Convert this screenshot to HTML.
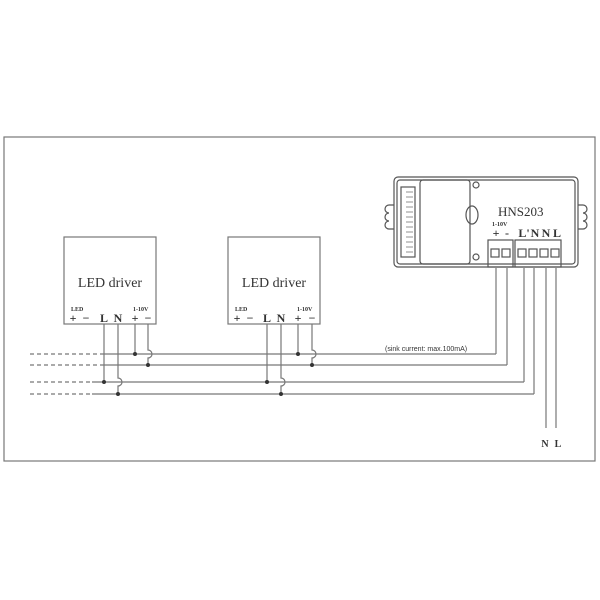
<!DOCTYPE html>
<html><head><meta charset="utf-8"><style>
html,body{margin:0;padding:0;background:#fff;}
svg{display:block;}
text{font-family:"Liberation Serif",serif;fill:#333;}
</style></head><body>
<svg width="600" height="600" viewBox="0 0 600 600" xmlns="http://www.w3.org/2000/svg">
<g fill="none" stroke="#777" stroke-width="1.2">
<rect x="4" y="137" width="591" height="324"/>
<rect x="64" y="237" width="92" height="87"/>
<rect x="228" y="237" width="92" height="87"/>
<g stroke-dasharray="4,3">
<line x1="30" y1="354" x2="104" y2="354"/>
<line x1="30" y1="365" x2="104" y2="365"/>
<line x1="30" y1="382" x2="92" y2="382"/>
<line x1="30" y1="394" x2="92" y2="394"/>
</g>
<line x1="104" y1="354" x2="496" y2="354"/>
<line x1="104" y1="365" x2="507" y2="365"/>
<line x1="92" y1="382" x2="524" y2="382"/>
<line x1="92" y1="394" x2="534" y2="394"/>
<line x1="104" y1="324" x2="104" y2="382"/>
<path d="M118 324 V378 a4 4 0 0 1 0 8 V394"/>
<line x1="135" y1="324" x2="135" y2="354"/>
<path d="M148 324 V350 a4 4 0 0 1 0 8 V365"/>
<line x1="267" y1="324" x2="267" y2="382"/>
<path d="M281 324 V378 a4 4 0 0 1 0 8 V394"/>
<line x1="298" y1="324" x2="298" y2="354"/>
<path d="M312 324 V350 a4 4 0 0 1 0 8 V365"/>
<line x1="496" y1="268" x2="496" y2="354"/>
<line x1="507" y1="268" x2="507" y2="365"/>
<line x1="524" y1="268" x2="524" y2="382"/>
<line x1="534" y1="268" x2="534" y2="394"/>
<line x1="546" y1="268" x2="546" y2="428"/>
<line x1="556" y1="268" x2="556" y2="428"/>
<g stroke="#555">
<rect x="394" y="177" width="184" height="90" rx="4"/>
<rect x="397" y="180" width="178" height="84" rx="3"/>
<rect x="420" y="180" width="50" height="84" rx="3"/>
<rect x="401" y="187" width="14" height="70"/>
<path d="M394 205 h-5 a4 4 0 0 0 0 8 a4 4 0 0 0 0 8 a4 4 0 0 0 0 8 h5"/>
<path d="M578 205 h5 a4 4 0 0 1 0 8 a4 4 0 0 1 0 8 a4 4 0 0 1 0 8 h-5"/>
<circle cx="476" cy="185" r="3"/>
<circle cx="476" cy="257" r="3"/>
<ellipse cx="472" cy="215" rx="6" ry="9"/>
<rect x="488" y="240" width="25" height="27"/>
<rect x="515" y="240" width="46" height="27"/>
<rect x="491" y="249" width="8" height="8"/><rect x="502" y="249" width="8" height="8"/>
<rect x="518" y="249" width="8" height="8"/><rect x="529" y="249" width="8" height="8"/>
<rect x="540" y="249" width="8" height="8"/><rect x="551" y="249" width="8" height="8"/>
</g>
<g stroke="#777" stroke-width="0.8">
<line x1="406" y1="192" x2="413" y2="192"/><line x1="406" y1="197" x2="413" y2="197"/>
<line x1="406" y1="202" x2="413" y2="202"/><line x1="406" y1="207" x2="413" y2="207"/>
<line x1="406" y1="212" x2="413" y2="212"/><line x1="406" y1="217" x2="413" y2="217"/>
<line x1="406" y1="222" x2="413" y2="222"/><line x1="406" y1="227" x2="413" y2="227"/>
<line x1="406" y1="232" x2="413" y2="232"/><line x1="406" y1="237" x2="413" y2="237"/>
<line x1="406" y1="242" x2="413" y2="242"/><line x1="406" y1="247" x2="413" y2="247"/>
<line x1="406" y1="252" x2="413" y2="252"/>
</g>
</g>
<g fill="#333">
<circle cx="104" cy="382" r="2"/><circle cx="118" cy="394" r="2"/>
<circle cx="135" cy="354" r="2"/><circle cx="148" cy="365" r="2"/>
<circle cx="267" cy="382" r="2"/><circle cx="281" cy="394" r="2"/>
<circle cx="298" cy="354" r="2"/><circle cx="312" cy="365" r="2"/>
</g>
<text x="110" y="287" font-size="14" text-anchor="middle">LED driver</text>
<text x="274" y="287" font-size="14" text-anchor="middle">LED driver</text>
<g font-size="6" font-weight="bold">
<text x="71" y="311">LED</text><text x="133" y="311">1-10V</text>
<text x="235" y="311">LED</text><text x="297" y="311">1-10V</text>
<text x="492" y="226">1-10V</text>
</g>
<g font-size="12" font-weight="bold" text-anchor="middle">
<text x="73" y="322">+</text><text x="86" y="322">−</text><text x="104" y="322">L</text><text x="118" y="322">N</text><text x="135" y="322">+</text><text x="148" y="322">−</text>
<text x="237" y="322">+</text><text x="250" y="322">−</text><text x="267" y="322">L</text><text x="281" y="322">N</text><text x="298" y="322">+</text><text x="312" y="322">−</text>
<text x="496" y="237">+</text><text x="507" y="237">-</text>
<text x="524" y="237">L'</text><text x="535" y="237">N</text><text x="546" y="237">N</text><text x="557" y="237">L</text>
<text x="545" y="447" font-size="10">N</text><text x="558" y="447" font-size="10">L</text>
</g>
<text x="498" y="216" font-size="13">HNS203</text>
<text x="385" y="351" font-size="7" style="font-family:'Liberation Sans',sans-serif">(sink current: max.100mA)</text>
</svg>
</body></html>
